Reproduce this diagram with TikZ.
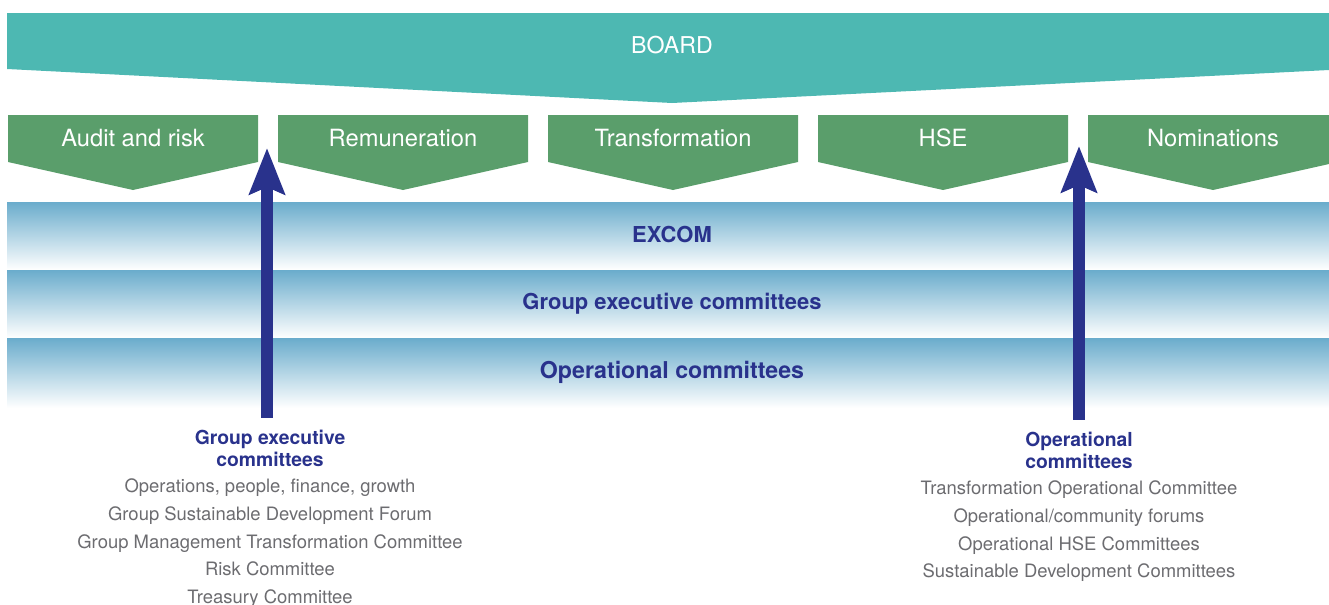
\documentclass[tikz,border=0pt]{standalone}
\usepackage{fontspec}
\setmainfont{TeX Gyre Heros}
\usetikzlibrary{arrows.meta,positioning,calc}
\definecolor{boardteal}{RGB}{77,184,178}
\definecolor{cttgreen}{RGB}{90,158,107}
\definecolor{navy}{RGB}{41,50,140}
\definecolor{bandblue}{RGB}{106,172,204}
\definecolor{listgray}{RGB}{108,108,112}

\begin{document}
\begin{tikzpicture}[x=0.02cm,y=-0.02cm,
  boardtext/.style={text=white,font=\fontsize{13.2}{16}\selectfont},
  cttee/.style={text=white,font=\fontsize{13.5}{16}\selectfont},
  bandtext/.style={text=navy,font=\bfseries\fontsize{12.5}{15}\selectfont},
  head/.style={text=navy,font=\bfseries\fontsize{11}{12.5}\selectfont,align=center,inner sep=1pt},
  list/.style={text=listgray,font=\fontsize{10.5}{15.9}\selectfont,align=center,inner sep=1pt},
  up/.style={draw=navy,line width=0.24cm,-{Stealth[length=0.92cm,width=0.7cm,inset=0.14cm]}}]
\useasboundingbox (0,0) rectangle (1329,605);
% board
\fill[boardteal] (7,13) -- (1329,13) -- (1329,70) -- (672,103) -- (7,69) -- cycle;
\node[boardtext] (board) at (672,45) {BOARD};
% board committees
\foreach \name [count=\i] in {Audit and risk,Remuneration,Transformation,HSE,Nominations}{
  \pgfmathsetmacro{\cx}{133+270*(\i-1)}
  \fill[cttgreen] (\cx-125,115) -- (\cx+125,115) -- (\cx+125,162) -- (\cx,190) -- (\cx-125,162) -- cycle;
  \node[cttee] (c\i) at (\cx,138) {\name};
}
% management bands
\shade[top color=bandblue,bottom color=white] (7,202) rectangle (1329,270);
\shade[top color=bandblue,bottom color=white] (7,270) rectangle (1329,338);
\shade[top color=bandblue,bottom color=white] (7,338) rectangle (1329,408);
\node[bandtext] (excom) at (672,234) {EXCOM};
\node[bandtext] (gecband) at (672,304) {Group executive committees};
\node[bandtext,font=\bfseries\fontsize{13.2}{15}\selectfont] (ocband) at (672,372) {Operational committees};
% arrow targets
\coordinate (tipA) at (267,148);
\coordinate (tipB) at (1079,146);
% group executive committees
\node[head] (gec) at (270,448) {Group executive\\committees};
\node[list,below=4.5pt of gec] (geclist) {Operations, people, finance, growth\\Group Sustainable Development Forum\\Group Management Transformation Committee\\Risk Committee\\Treasury Committee};
% operational committees
\node[head] (oc) at (1079,450) {Operational\\committees};
\node[list,below=4.5pt of oc] (oclist) {Transformation Operational Committee\\Operational/community forums\\Operational HSE Committees\\Sustainable Development Committees};
\draw[up,shorten <=0.2cm] (gec.north -| tipA) -- (tipA);
\draw[up,shorten <=0.2cm] (oc.north -| tipB) -- (tipB);
\end{tikzpicture}
\end{document}
